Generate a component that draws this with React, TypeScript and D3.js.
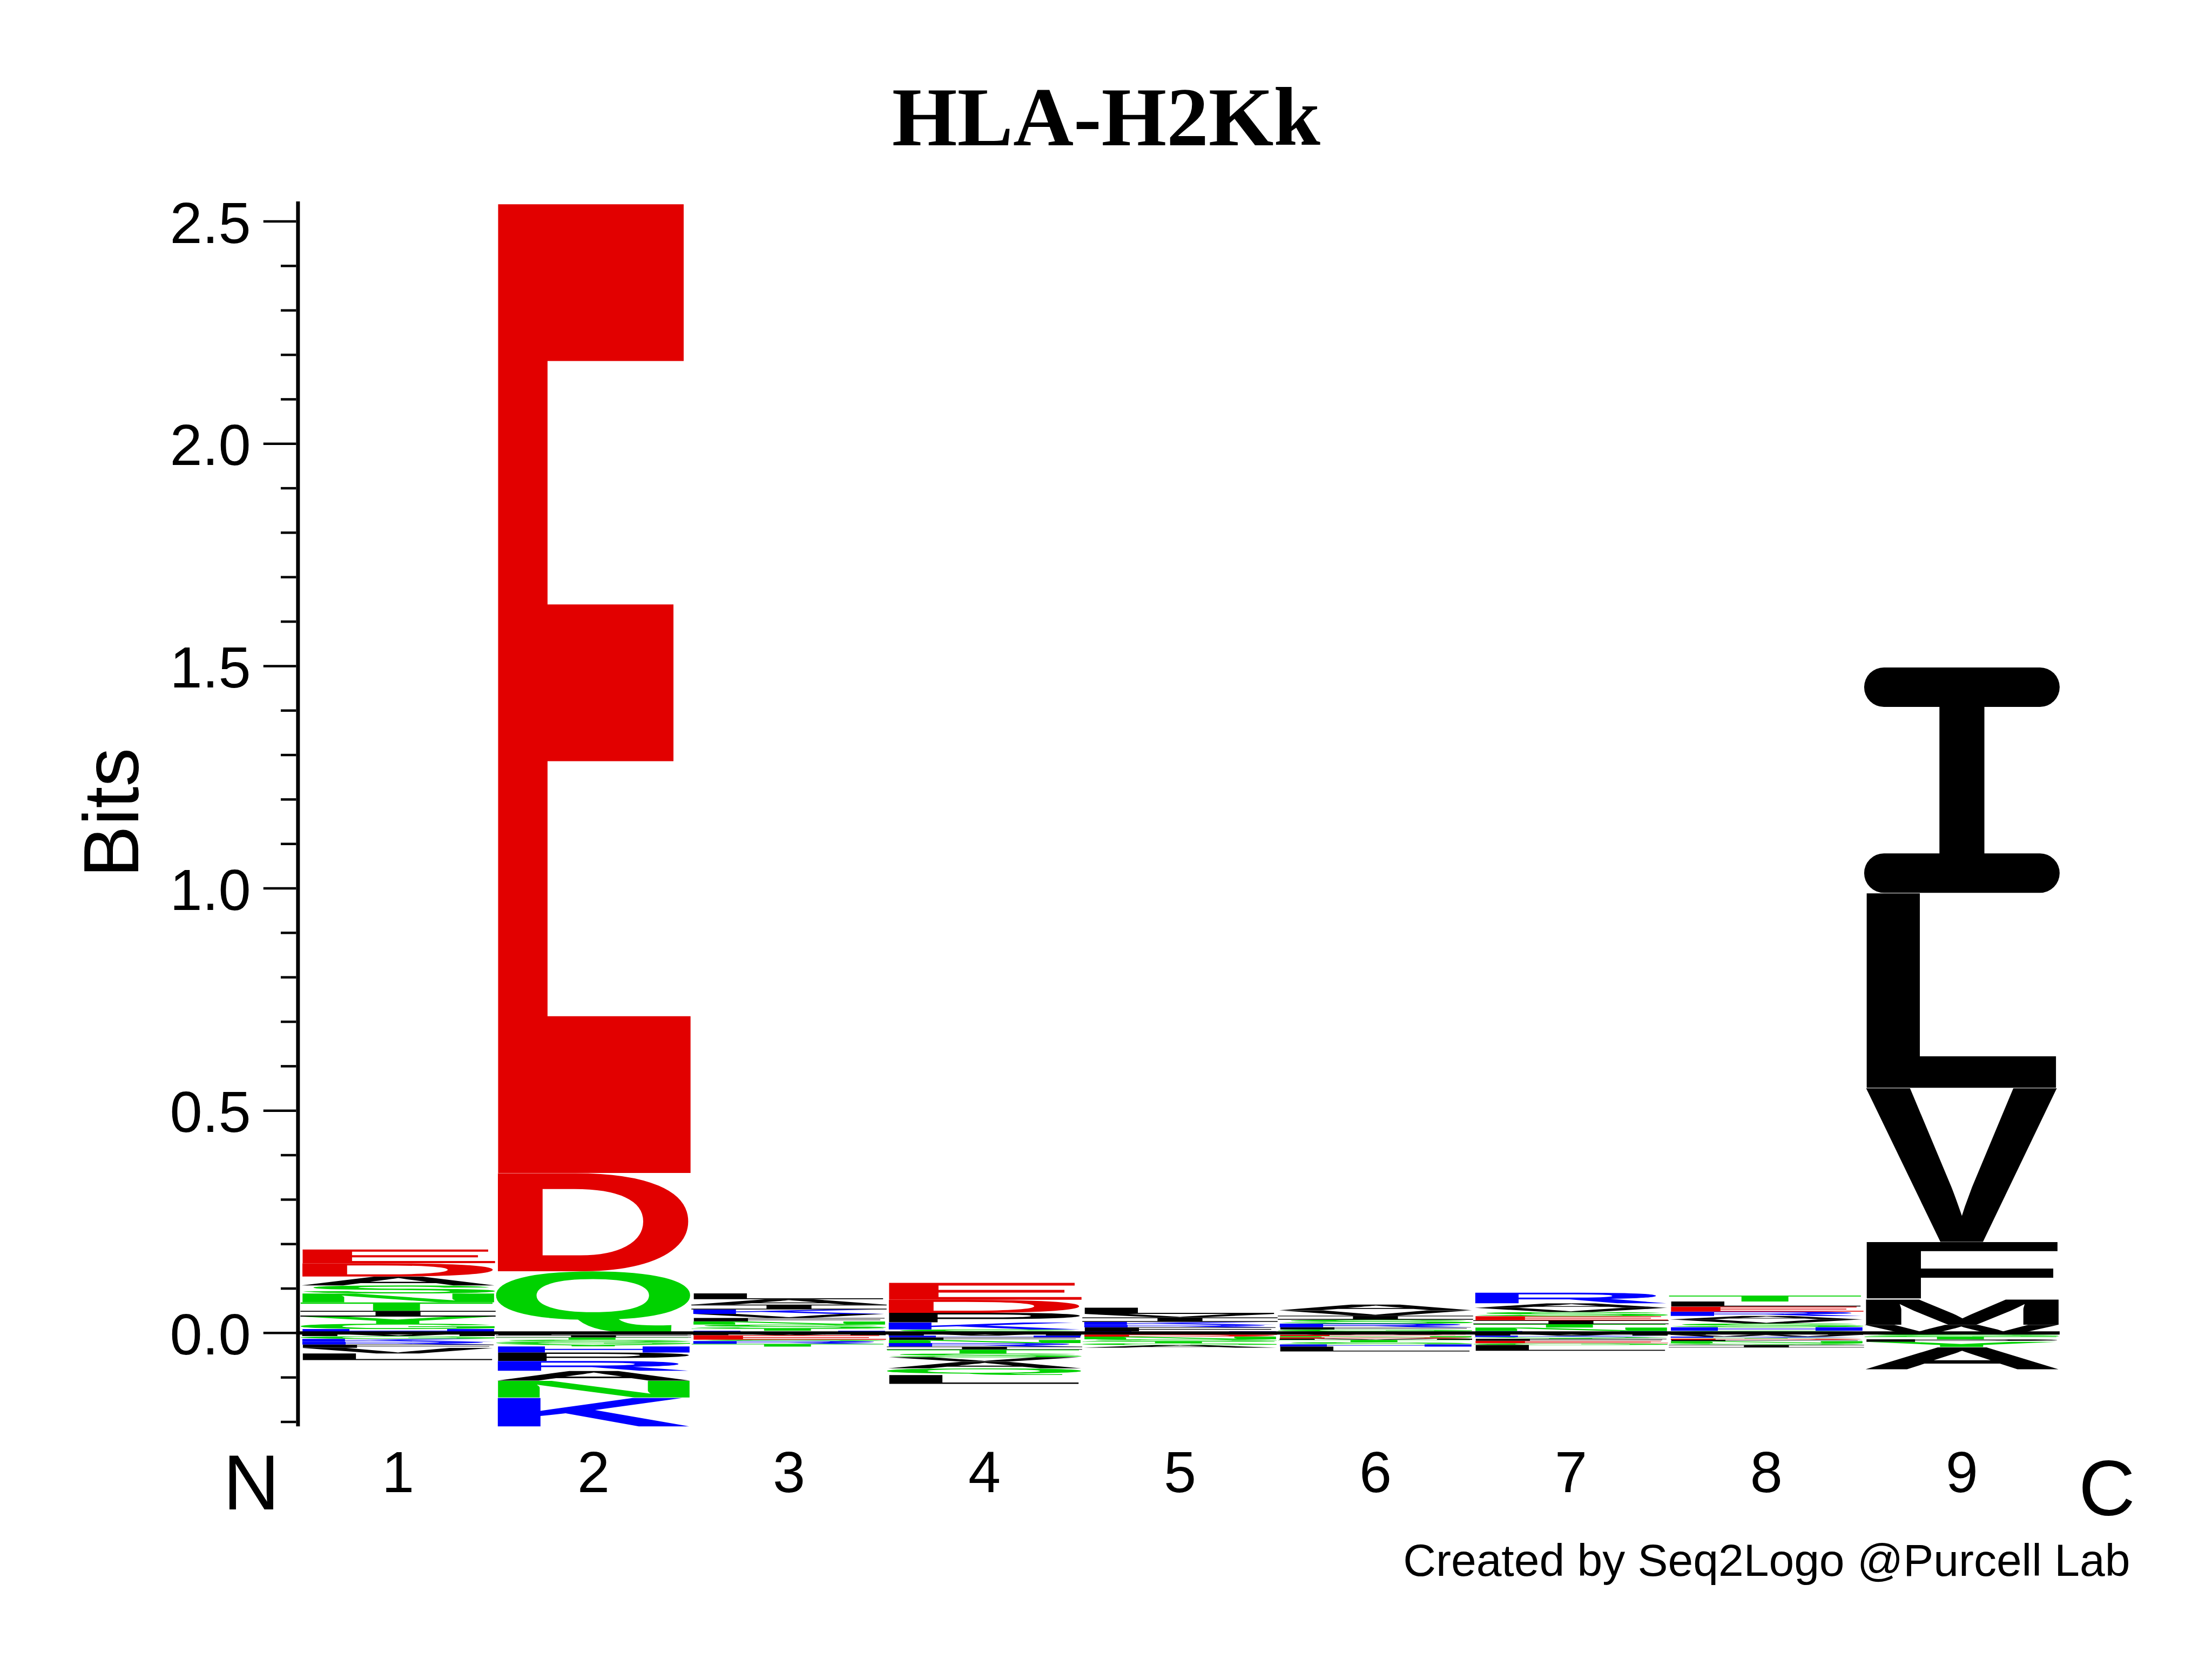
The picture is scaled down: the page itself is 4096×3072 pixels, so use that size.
import React, { useMemo } from 'react';
import * as d3 from 'd3';

// ---------- layout constants (reference px * K) ----------
const K = 0.768;
const WIDTH = 4096;
const HEIGHT = 3072;

// ---------- data ----------
const title = 'HLA-H2Kk';
const yLabel = 'Bits';
const positions = [1, 2, 3, 4, 5, 6, 7, 8, 9];
const yMajorTicks = [0, 0.5, 1.0, 1.5, 2.0, 2.5];
const yMajorLabels = ['0.0', '0.5', '1.0', '1.5', '2.0', '2.5'];
const yMinorTicks = [-0.2, -0.1, 0.1, 0.2, 0.3, 0.4, 0.6, 0.7, 0.8, 0.9, 1.1, 1.2, 1.3, 1.4, 1.6, 1.7, 1.8, 1.9, 2.1, 2.2, 2.3, 2.4];
const yDomain = [-0.21, 2.545];

// stacks: "Up" listed from zero upward, "Down" listed from zero downward (bits)
const pos1Up: [string, number][] = [['H', 0.009], ['G', 0.012], ['Y', 0.016], ['I', 0.013], ['T', 0.019], ['N', 0.020], ['S', 0.018], ['A', 0.020], ['D', 0.030], ['E', 0.031]];
const pos1Down: [string, number][] = [['M', 0.007], ['G', 0.006], ['K', 0.0065], ['R', 0.0065], ['F', 0.0075], ['V', 0.0125], ['L', 0.015]];

const pos2Up: [string, number][] = [['Q', 0.139], ['D', 0.221], ['E', 2.185]];
const pos2Down: [string, number][] = [['L', 0.005], ['I', 0.005], ['T', 0.005], ['S', 0.005], ['G', 0.005], ['Y', 0.005], ['H', 0.014], ['P', 0.019], ['R', 0.022], ['A', 0.022], ['N', 0.038], ['K', 0.065]];

const pos3Up: [string, number][] = [['H', 0.005], ['T', 0.005], ['S', 0.009], ['N', 0.007], ['F', 0.008], ['V', 0.009], ['K', 0.010], ['I', 0.011], ['A', 0.012], ['L', 0.013]];
const pos3Down: [string, number][] = [['M', 0.005], ['E', 0.010], ['S', 0.003], ['R', 0.0065], ['T', 0.006]];

const pos4Up: [string, number][] = [['S', 0.008], ['K', 0.0157], ['P', 0.0217], ['D', 0.0293], ['E', 0.0383]];
const pos4Down: [string, number][] = [['M', 0.006], ['H', 0.004], ['F', 0.0056], ['N', 0.007], ['R', 0.0078], ['I', 0.007], ['T', 0.0087], ['S', 0.0084], ['V', 0.010], ['A', 0.015], ['Q', 0.015], ['L', 0.020]];

const pos5Up: [string, number][] = [['H', 0.004], ['F', 0.009], ['R', 0.0055], ['K', 0.0065], ['I', 0.010], ['V', 0.008], ['L', 0.014]];
const pos5Down: [string, number][] = [['E', 0.004], ['D', 0.004], ['N', 0.006], ['S', 0.005], ['T', 0.004], ['G', 0.004], ['A', 0.006]];

const pos6Up: [string, number][] = [['T', 0.004], ['G', 0.004], ['F', 0.005], ['R', 0.008], ['S', 0.009], ['I', 0.009], ['V', 0.012], ['A', 0.013]];
const pos6Down: [string, number][] = [['W', 0.004], ['E', 0.003], ['N', 0.003], ['D', 0.0025], ['M', 0.003], ['T', 0.005], ['S', 0.005], ['H', 0.005], ['L', 0.011]];

const pos7Up: [string, number][] = [['H', 0.0044], ['N', 0.008], ['T', 0.0075], ['I', 0.0087], ['E', 0.0093], ['S', 0.0093], ['V', 0.0093], ['A', 0.0103], ['R', 0.024]];
const pos7Down: [string, number][] = [['M', 0.006], ['K', 0.003], ['Q', 0.002], ['Y', 0.002], ['F', 0.0047], ['E', 0.0053], ['G', 0.004], ['L', 0.013]];

const pos8Up: [string, number][] = [['G', 0.005], ['H', 0.008], ['S', 0.0085], ['V', 0.009], ['A', 0.008], ['R', 0.0095], ['E', 0.0115], ['L', 0.0115], ['T', 0.0135]];
const pos8Down: [string, number][] = [['M', 0.004], ['W', 0.004], ['K', 0.0025], ['Y', 0.002], ['D', 0.0028], ['F', 0.003], ['N', 0.0045], ['Q', 0.004], ['I', 0.006]];

const pos9Up: [string, number][] = [['W', 0.0185], ['M', 0.0575], ['F', 0.129], ['V', 0.3465], ['L', 0.4385], ['I', 0.507]];
const pos9Down: [string, number][] = [['H', 0.003], ['S', 0.003], ['G', 0.002], ['T', 0.006], ['P', 0.006], ['Y', 0.0115], ['A', 0.050]];

const stacksUp = [pos1Up, pos2Up, pos3Up, pos4Up, pos5Up, pos6Up, pos7Up, pos8Up, pos9Up];
const stacksDown = [pos1Down, pos2Down, pos3Down, pos4Down, pos5Down, pos6Down, pos7Down, pos8Down, pos9Down];

// ---------- styles ----------
const RED = '#e20000';
const GREEN = '#00d200';
const BLUE = '#0000ff';
const BLACK = '#000000';
const letterColor: Record<string, string> = {
  D: RED, E: RED,
  H: BLUE, K: BLUE, R: BLUE,
  G: GREEN, N: GREEN, Q: GREEN, S: GREEN, T: GREEN, Y: GREEN,
  A: BLACK, C: BLACK, F: BLACK, I: BLACK, L: BLACK, M: BLACK, P: BLACK, V: BLACK, W: BLACK,
};
const GLYPH_FONT = '"Liberation Sans", Arial, Helvetica, sans-serif';
const SANS = '"Liberation Sans", Arial, Helvetica, sans-serif';
const SERIF = '"Liberation Serif", "Times New Roman", serif';

type Metric = { l: number; r: number; a: number; d: number };

function useGlyphMetrics(): Record<string, Metric> {
  return useMemo(() => {
    const out: Record<string, Metric> = {};
    const canvas = document.createElement('canvas');
    const ctx = canvas.getContext('2d');
    for (const ch of 'ACDEFGHIKLMNPQRSTVWY') {
      if (ctx) {
        ctx.font = `bold 100px ${GLYPH_FONT}`;
        const m = ctx.measureText(ch);
        out[ch] = {
          l: m.actualBoundingBoxLeft,
          r: m.actualBoundingBoxRight,
          a: m.actualBoundingBoxAscent,
          d: m.actualBoundingBoxDescent,
        };
      } else {
        out[ch] = { l: 0, r: 70, a: 72, d: 0 };
      }
    }
    return out;
  }, []);
}

function Glyph({ ch, x, y, w, h, metrics }: { ch: string; x: number; y: number; w: number; h: number; metrics: Record<string, Metric> }) {
  const color = letterColor[ch] || BLACK;
  if (h <= 0) return null;
  if (ch === 'I') {
    const barH = h * 0.175;
    const r = Math.min(barH / 2, w / 2);
    return (
      <g fill={color}>
        <rect x={x} y={y} width={w} height={barH} rx={r} ry={barH / 2} />
        <rect x={x + w * 0.385} y={y + barH * 0.5} width={w * 0.23} height={h - barH} />
        <rect x={x} y={y + h - barH} width={w} height={barH} rx={r} ry={barH / 2} />
      </g>
    );
  }
  const m = metrics[ch];
  const gw = m.l + m.r;
  const gh = m.a + m.d;
  return (
    <text
      transform={`translate(${x},${y}) scale(${w / gw},${h / gh}) translate(${m.l},${m.a})`}
      fontFamily={GLYPH_FONT}
      fontWeight="bold"
      fontSize={100}
      fill={color}
      textRendering="geometricPrecision"
    >
      {ch}
    </text>
  );
}

export default function App() {
  const metrics = useGlyphMetrics();

  const y = d3.scaleLinear().domain([0, 2.5]).range([3214 * K, 534 * K]);
  const x = d3.scaleBand<number>().domain(positions).range([724 * K, 4966 * K]).padding(0);

  const axisX = 718.5 * K;
  const majorStart = 635 * K;
  const minorStart = 677 * K;
  const axisEnd = 714 * K;

  const glyphs: JSX.Element[] = [];
  positions.forEach((p, i) => {
    const x0 = x(p)!;
    const w = x.bandwidth();
    let c = 0;
    stacksUp[i].forEach(([ch, v], j) => {
      const top = y(c + v);
      const bot = y(c);
      glyphs.push(<Glyph key={`u${p}-${j}`} ch={ch} x={x0} y={top} w={w} h={bot - top} metrics={metrics} />);
      c += v;
    });
    c = 0;
    stacksDown[i].forEach(([ch, v], j) => {
      const top = y(-c);
      const bot = y(-c - v);
      glyphs.push(<Glyph key={`d${p}-${j}`} ch={ch} x={x0} y={top} w={w} h={bot - top} metrics={metrics} />);
      c += v;
    });
  });

  return (
    <svg
      width={WIDTH}
      height={HEIGHT}
      viewBox={`0 0 ${WIDTH} ${HEIGHT}`}
      style={{ position: 'absolute', left: 0, top: 0, background: '#fff' }}
    >
      <rect x={0} y={0} width={WIDTH} height={HEIGHT} fill="#fff" />

      {/* title */}
      <text x={2667 * K} y={350.7 * K} textAnchor="middle" fontFamily={SERIF} fontWeight="bold" fontSize={202 * K}>
        {title}
      </text>

      {/* letters */}
      <g>{glyphs}</g>

      {/* zero line */}
      <line x1={axisEnd} x2={x.range()[1]} y1={y(0)} y2={y(0)} stroke={BLACK} strokeWidth={6} />

      {/* y axis */}
      <line x1={axisX} x2={axisX} y1={y(yDomain[1])} y2={y(yDomain[0])} stroke={BLACK} strokeWidth={7} />
      {yMajorTicks.map((t, i) => (
        <g key={`mj${i}`}>
          <line x1={majorStart} x2={axisEnd} y1={y(t)} y2={y(t)} stroke={BLACK} strokeWidth={4.5} />
          <text x={605 * K} y={y(t)} dy={51.5 * K} textAnchor="end" fontFamily={SANS} fontSize={108}>
            {yMajorLabels[i]}
          </text>
        </g>
      ))}
      {yMinorTicks.map((t, i) => (
        <line key={`mn${i}`} x1={minorStart} x2={axisEnd} y1={y(t)} y2={y(t)} stroke={BLACK} strokeWidth={4.5} />
      ))}

      {/* y label */}
      <text
        transform={`translate(${332.7 * K},${1959.5 * K}) rotate(-90)`}
        textAnchor="middle"
        fontFamily={SANS}
        fontSize={144}
      >
        {yLabel}
      </text>

      {/* x labels */}
      {positions.map((p) => (
        <text key={`xl${p}`} x={x(p)! + x.bandwidth() / 2} y={3598 * K} textAnchor="middle" fontFamily={SANS} fontSize={108}>
          {String(p)}
        </text>
      ))}
      <text x={606 * K} y={3639 * K} textAnchor="middle" fontFamily={SANS} fontSize={145}>N</text>
      <text x={5080 * K} y={3653 * K} textAnchor="middle" fontFamily={SANS} fontSize={145}>C</text>

      {/* footer */}
      <text x={5136 * K} y={3800 * K} textAnchor="end" fontFamily={SANS} fontSize={84}>
        Created by Seq2Logo @Purcell Lab
      </text>
    </svg>
  );
}
